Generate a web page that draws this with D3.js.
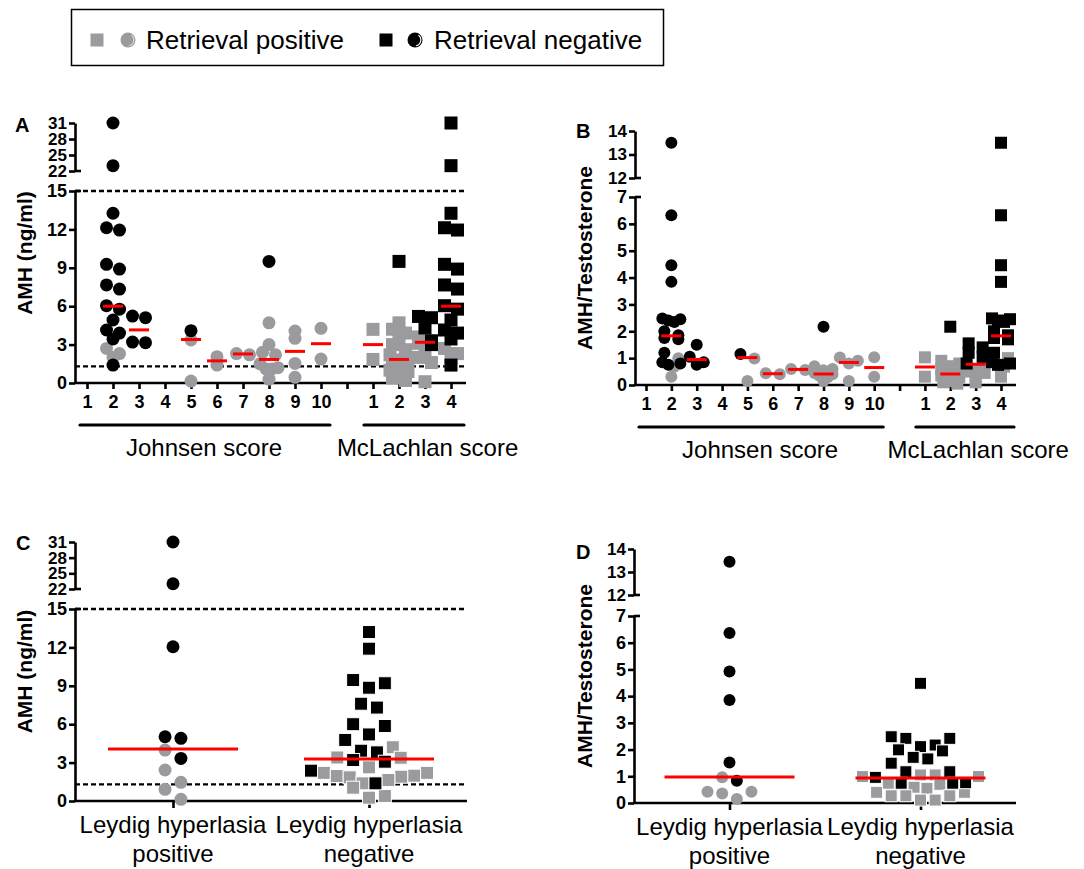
<!DOCTYPE html>
<html><head><meta charset="utf-8">
<script src="https://cdn.jsdelivr.net/npm/d3@7"></script>
<style>body{margin:0;background:#fff}svg{display:block}text{font-family:Arial,"Liberation Sans",sans-serif}</style>
</head><body>
<svg id="chart" width="1084" height="869"></svg>
<script>
// ---------------- DATA ----------------
const johnsenLabels = ["1","2","3","4","5","6","7","8","9","10"];
const mclachlanLabels = ["1","2","3","4"];
const groupTitles = ["Johnsen score","McLachlan score"];
const leydigCategories = ["pos","neg"];
const leydigLabels = [["Leydig hyperlasia","positive"],["Leydig hyperlasia","negative"]];
const legendLabels = ["Retrieval positive","Retrieval negative"];
const panelLetters = ["A","B","C","D"];
const amhTitle = "AMH (ng/ml)";
const ratioTitle = "AMH/Testosterone";
const amhLowerTicks = [0,3,6,9,12,15];
const amhUpperTicks = [22,25,28,31];
const ratioLowerTicks = [0,1,2,3,4,5,6,7];
const ratioUpperTicks = [12,13,14];
const amhRefLines = [15, 1.3];

// Panel A: AMH by Johnsen score (circles) — retrieval positive (gray) / negative (black)
const amhJohnsenPos = [[], [2.7,2.3,2.0], [], [], [3.36,0.15], [1.4,2.06], [2.2,2.3],
  [4.7,3.0,2.4,2.2,1.5,1.2,1.1,1.1,0.95,0.3], [4.06,3.49,1.53,0.44], [4.27,1.87]];
const amhJohnsenNeg = [[], [31,23,13.26,12.13,11.95,9.27,8.9,7.66,7.34,6.04,5.77,4.92,4.14,3.9,3.44,1.4],
  [5.23,5.1,3.2,3.15], [], [4.09], [], [], [9.5], [], []];
const amhJohnsenMed = [null, 6.0, 4.15, null, 3.4, 1.73, 2.27, 1.84, 2.47, 3.07];
// Panel A: AMH by McLachlan score (squares)
const amhMcPos = [[4.19,1.84], [4.7,4.2,3.9,3.5,3.0,2.6,2.2,1.9,1.8,1.5,1.2,1.0,0.9,0.8,0.6,0.4,0.2],
  [3.6,3.1,2.5,2.0,1.6,0.1], [2.7,2.3,2.0]];
const amhMcNeg = [[], [9.5], [5.2,5.1,4.3,3.3,3.0],
  [31,23,13.26,12.13,11.95,9.27,8.9,7.66,7.34,6.04,5.77,4.92,4.14,3.9,3.44,1.4]];
const amhMcMed = [3.0, 1.84, 3.18, 6.0];

// Panel B: AMH/Testosterone by Johnsen score
const ratioJohnsenPos = [[], [0.68,0.31,1.0], [], [], [0.99,0.15], [0.4,0.44], [0.56,0.6],
  [0.7,0.6,0.55,0.45,0.4,0.35,0.3,0.25,0.15], [1.02,0.9,0.8,0.15], [1.03,0.31]];
const ratioJohnsenNeg = [[], [13.5,6.32,4.46,3.84,2.48,2.45,2.4,2.35,2.0,1.85,1.75,1.7,1.2,0.85,0.8,0.75],
  [1.5,1.05,0.85,0.75], [], [1.15], [], [], [2.17], [], []];
const ratioJohnsenMed = [null, 1.83, 0.95, null, 1.02, 0.42, 0.58, 0.41, 0.84, 0.65];
// Panel B: AMH/Testosterone by McLachlan score
const ratioMcPos = [[1.03,0.31], [0.9,0.8,0.7,0.6,0.55,0.5,0.45,0.42,0.4,0.38,0.35,0.3,0.25,0.2,0.15,0.1,0.05],
  [0.75,0.6,0.5,0.45,0.3,0.1], [0.68,0.31,1.0]];
const ratioMcNeg = [[], [2.17], [1.55,1.4,1.2,1.05,0.8],
  [13.5,6.32,4.46,3.84,2.48,2.45,2.4,2.35,2.0,1.85,1.75,1.7,1.2,0.85,0.8,0.75]];
const ratioMcMed = [0.67, 0.41, 0.77, 1.83];

// Panel C: AMH by Leydig hyperplasia (positive: circles, negative: squares)
const amhLeydigPos = [[3.98,2.42,1.46,0.91,0.13],
  [4.2,3.4,3.38,2.63,2.2,2.2,1.98,1.95,1.9,1.85,1.64,1.38,1.04,0.39,0.26]];
const amhLeydigNeg = [[31,23,12.05,5.02,4.9,3.33],
  [13.2,11.9,9.45,9.2,8.85,7.6,7.3,6.0,5.86,5.2,4.77,3.93,3.8,3.2,3.07,2.37,1.38]];
const amhLeydigMed = [4.06, 3.28];

// Panel D: AMH/Testosterone by Leydig hyperplasia
const ratioLeydigPos = [[0.96,0.42,0.42,0.36,0.15],
  [1.05,1.05,0.99,0.99,0.74,0.7,0.59,0.55,0.4,0.4,0.27,0.27,0.27,0.11,0.11]];
const ratioLeydigNeg = [[13.45,6.36,4.92,3.86,1.52,0.83],
  [4.48,2.48,2.42,2.42,2.17,2.11,1.99,1.95,1.71,1.65,1.49,1.17,1.17,0.96,0.76,0.74,0.74]];
const ratioLeydigMed = [0.97, 0.94];

// ---------------- DRAWING ----------------
const svg = d3.select("#chart");
const GRAY = "#9b9b9f", BLACK = "#000000", RED = "#ff0000";
const AX_W = 2.6;
const FONT = "Arial, 'Liberation Sans', sans-serif";

function brokenY(lower, upper) {
  const lmax = lower.domain()[1];
  return v => v <= lmax ? lower(v) : upper(v);
}

function yAxis(x, lower, upper, lt, ut) {
  const g = svg.append("g").attr("transform", `translate(${x},0)`);
  [[lower, lt, 18], [upper, ut, 17]].forEach(([sc, tv, fs]) => {
    const a = g.append("g").call(d3.axisLeft(sc).tickValues(tv).tickFormat(d3.format("d"))
      .tickSize(6).tickSizeOuter(0).tickPadding(2));
    a.select(".domain").attr("stroke-width", AX_W).attr("stroke", "#000");
    a.selectAll(".tick line").attr("stroke-width", AX_W).attr("stroke", "#000");
    a.selectAll(".tick text").attr("font-size", fs).attr("font-weight", "bold").attr("fill", "#000")
      .attr("font-family", FONT);
  });
  // break caps
  [lower.range()[1], upper.range()[0]].forEach(y => {
    g.append("line").attr("x1", 0).attr("x2", 6).attr("y1", y).attr("y2", y)
      .attr("stroke", "#000").attr("stroke-width", AX_W);
  });
}

function yTitle(x, y, txt) {
  svg.append("text").attr("transform", `translate(${x},${y}) rotate(-90)`)
    .attr("text-anchor", "middle").attr("font-size", 21).attr("font-weight", "bold").text(txt);
}

function letter(x, y, t) {
  svg.append("text").attr("x", x).attr("y", y).attr("font-size", 20).attr("font-weight", "bold").text(t);
}

function dashed(x1, x2, y) {
  svg.append("line").attr("x1", x1).attr("x2", x2).attr("y1", y).attr("y2", y)
    .attr("stroke", "#000").attr("stroke-width", 2.4).attr("stroke-dasharray", "5,3");
}

// beeswarm-like row layout
function layout(pos, neg, yFn, o) {
  const pts = pos.map(v => ({v, c: GRAY})).concat(neg.map(v => ({v, c: BLACK})));
  pts.forEach(p => p.py = yFn(p.v));
  pts.sort((a, b) => a.py - b.py);
  const rows = []; let cur = null;
  pts.forEach(p => {
    if (!cur || p.py - cur[0].py > o.rowT) { cur = [p]; rows.push(cur); } else cur.push(p);
  });
  rows.forEach(row => {
    const k = row.length;
    const s = k > 1 ? Math.min(o.sep, 2 * o.maxHalf / (k - 1)) : 0;
    const offs = d3.range(k).map(i => (i - (k - 1) / 2) * s);
    const order = offs.slice().sort((a, b) => Math.abs(b) - Math.abs(a) || a - b);
    row.slice().sort((a, b) => b.v - a.v).forEach((p, i) => p.dx = order[i]);
  });
  return pts;
}

function drawPoints(xc, pts, shape, d, stroke) {
  const g = svg.append("g");
  [GRAY, BLACK].forEach(col => {
    pts.filter(p => p.c === col).forEach(p => {
      if (shape === "circle") {
        g.append("circle").attr("cx", xc + p.dx).attr("cy", p.py).attr("r", d / 2).attr("fill", col);
      } else {
        g.append("rect").attr("x", xc + p.dx - d / 2).attr("y", p.py - d / 2).attr("width", d).attr("height", d)
          .attr("fill", col).attr("stroke", stroke ? "#fff" : "none").attr("stroke-width", stroke ? 1 : 0);
      }
    });
  });
}

function median(xc, yv, half) {
  svg.append("line").attr("x1", xc - half).attr("x2", xc + half).attr("y1", yv).attr("y2", yv)
    .attr("stroke", RED).attr("stroke-width", 3);
}

// ---- Panels A & B (score panels) ----
function scorePanel(cfg) {
  const {x0, xEnd, lower, upper, lt, ut, x, jPos, jNeg, jMed, mPos, mNeg, mMed, refLines, d, sep, title, titleX, letterXY} = cfg;
  const yFn = brokenY(lower, upper);
  const y0 = lower(0);
  (refLines || []).forEach(v => dashed(x0, xEnd, lower(v)));
  yAxis(x0, lower, upper, lt, ut);
  // x axis
  const tickLabels = johnsenLabels.concat([""], mclachlanLabels);
  const ax = svg.append("g").attr("transform", `translate(0,${y0})`)
    .call(d3.axisBottom(x).tickValues(d3.range(tickLabels.length)).tickFormat(i => tickLabels[i]).tickSize(6).tickSizeOuter(0).tickPadding(6));
  ax.select(".domain").remove();
  ax.selectAll(".tick line").attr("stroke-width", AX_W).attr("stroke", "#000");
  ax.selectAll(".tick text").attr("font-size", 18).attr("font-weight", "bold").attr("fill", "#000")
    .attr("font-family", FONT);
  svg.append("line").attr("x1", x0 - 1).attr("x2", xEnd).attr("y1", y0).attr("y2", y0).attr("stroke", "#000").attr("stroke-width", AX_W);
  // group brackets
  const gy = y0 + 42;
  [[x(0) - 7, x(9) + 9], [x(11) - 9, x(14) + 13]].forEach(([a, b]) => {
    svg.append("line").attr("x1", a).attr("x2", b).attr("y1", gy).attr("y2", gy).attr("stroke", "#000").attr("stroke-width", 3.2).attr("stroke-linecap", "round");
  });
  [[x(4.5), groupTitles[0]], [x(13.1), groupTitles[1]]].forEach(([cx, t]) => {
    svg.append("text").attr("x", cx).attr("y", gy + 31).attr("text-anchor", "middle").attr("font-size", 24).text(t);
  });
  // points
  const opt = {rowT: 6, sep: sep, maxHalf: 9};
  jPos.forEach((vals, i) => drawPoints(x(i), layout(vals, jNeg[i], yFn, opt), "circle", d, false));
  mPos.forEach((vals, i) => drawPoints(x(11 + i), layout(vals, mNeg[i], yFn, opt), "square", d, false));
  jMed.forEach((m, i) => { if (m != null) median(x(i), lower(m), 10); });
  mMed.forEach((m, i) => median(x(11 + i), lower(m), 10));
  yTitle(titleX, (lower(0) + upper(upper.domain()[1])) / 2, title);
  letter(letterXY[0], letterXY[1], letterXY[2]);
}

scorePanel({
  x0: 75, xEnd: 466,
  lower: d3.scaleLinear().domain([0, 15]).range([383, 191]),
  upper: d3.scaleLinear().domain([22, 31]).range([171, 123]),
  lt: amhLowerTicks, ut: amhUpperTicks,
  x: d3.scaleLinear().domain([0, 14]).range([87, 451]),
  jPos: amhJohnsenPos, jNeg: amhJohnsenNeg, jMed: amhJohnsenMed,
  mPos: amhMcPos, mNeg: amhMcNeg, mMed: amhMcMed,
  refLines: amhRefLines, d: 13, sep: 13, title: amhTitle, titleX: 32, letterXY: [15, 132, panelLetters[0]]
});
scorePanel({
  x0: 635, xEnd: 1016,
  lower: d3.scaleLinear().domain([0, 7]).range([385, 197]),
  upper: d3.scaleLinear().domain([12, 14]).range([178, 131]),
  lt: ratioLowerTicks, ut: ratioUpperTicks,
  x: d3.scaleLinear().domain([0, 14]).range([646, 1001]),
  jPos: ratioJohnsenPos, jNeg: ratioJohnsenNeg, jMed: ratioJohnsenMed,
  mPos: ratioMcPos, mNeg: ratioMcNeg, mMed: ratioMcMed,
  refLines: null, d: 12, sep: 14, title: ratioTitle, titleX: 592, letterXY: [576, 138, panelLetters[1]]
});

// ---- Panels C & D (Leydig panels) ----
function leydigPanel(cfg) {
  const {x0, xEnd, lower, upper, lt, ut, pos, neg, med, refLines, d, title, titleX, letterXY, squareStroke} = cfg;
  const yFn = brokenY(lower, upper);
  const y0 = lower(0);
  const x = d3.scalePoint().domain(leydigCategories).range([x0, xEnd]).padding(0.5);
  (refLines || []).forEach(v => dashed(x0, xEnd, lower(v)));
  yAxis(x0, lower, upper, lt, ut);
  const ax = svg.append("g").attr("transform", `translate(0,${y0})`)
    .call(d3.axisBottom(x).tickSize(7).tickSizeOuter(0).tickFormat(""));
  ax.select(".domain").remove();
  ax.selectAll(".tick line").attr("stroke-width", AX_W).attr("stroke", "#000");
  svg.append("line").attr("x1", x0 - 1).attr("x2", xEnd).attr("y1", y0).attr("y2", y0).attr("stroke", "#000").attr("stroke-width", AX_W);
  leydigCategories.forEach((c, i) => {
    const t = svg.append("text").attr("x", x(c)).attr("y", y0 + 32).attr("text-anchor", "middle").attr("font-size", 24);
    leydigLabels[i].forEach((ln, j) => t.append("tspan").attr("x", x(c)).attr("dy", j === 0 ? 0 : 29).text(ln));
  });
  const opt = {rowT: d * 1.0, sep: d * 1.22, maxHalf: 58};
  leydigCategories.forEach((c, i) => {
    drawPoints(x(c), layout(pos[i], neg[i], yFn, opt), i === 0 ? "circle" : "square", d, squareStroke);
    median(x(c), lower(med[i]), 65);
  });
  yTitle(titleX, (lower(0) + upper(upper.domain()[1])) / 2, title);
  letter(letterXY[0], letterXY[1], letterXY[2]);
}

leydigPanel({
  x0: 75, xEnd: 467,
  lower: d3.scaleLinear().domain([0, 15]).range([801, 609]),
  upper: d3.scaleLinear().domain([22, 31]).range([589, 542]),
  lt: amhLowerTicks, ut: amhUpperTicks,
  pos: amhLeydigPos, neg: amhLeydigNeg, med: amhLeydigMed,
  refLines: amhRefLines, d: 13, title: amhTitle, titleX: 32, letterXY: [16, 550, panelLetters[2]], squareStroke: true
});
leydigPanel({
  x0: 634, xEnd: 1016,
  lower: d3.scaleLinear().domain([0, 7]).range([803, 616]),
  upper: d3.scaleLinear().domain([12, 14]).range([595, 549]),
  lt: ratioLowerTicks, ut: ratioUpperTicks,
  pos: ratioLeydigPos, neg: ratioLeydigNeg, med: ratioLeydigMed,
  refLines: null, d: 12, title: ratioTitle, titleX: 592, letterXY: [576, 559, panelLetters[3]], squareStroke: true
});

// ---- Legend ----
const lg = svg.append("g");
lg.append("rect").attr("x", 71.5).attr("y", 9.5).attr("width", 592).attr("height", 56)
  .attr("fill", "#fff").attr("stroke", "#000").attr("stroke-width", 1.5);
[[GRAY, 97, 128, 146, legendLabels[0]], [BLACK, 386, 415, 434, legendLabels[1]]].forEach(([col, sx, cx, tx, t]) => {
  lg.append("rect").attr("x", sx - 6.5).attr("y", 33.5).attr("width", 13).attr("height", 13).attr("fill", col);
  lg.append("circle").attr("cx", cx).attr("cy", 40).attr("r", 7.5).attr("fill", col);
  const arc = d3.arc().innerRadius(5.2).outerRadius(6.4).startAngle(Math.PI * 0.2).endAngle(Math.PI * 0.95);
  lg.append("path").attr("d", arc()).attr("transform", `translate(${cx},${40})`).attr("fill", "#fff").attr("opacity", col === GRAY ? 0.6 : 1);
  lg.append("text").attr("x", tx).attr("y", 49).attr("font-size", 26).text(t);
});
</script>
</body></html>
